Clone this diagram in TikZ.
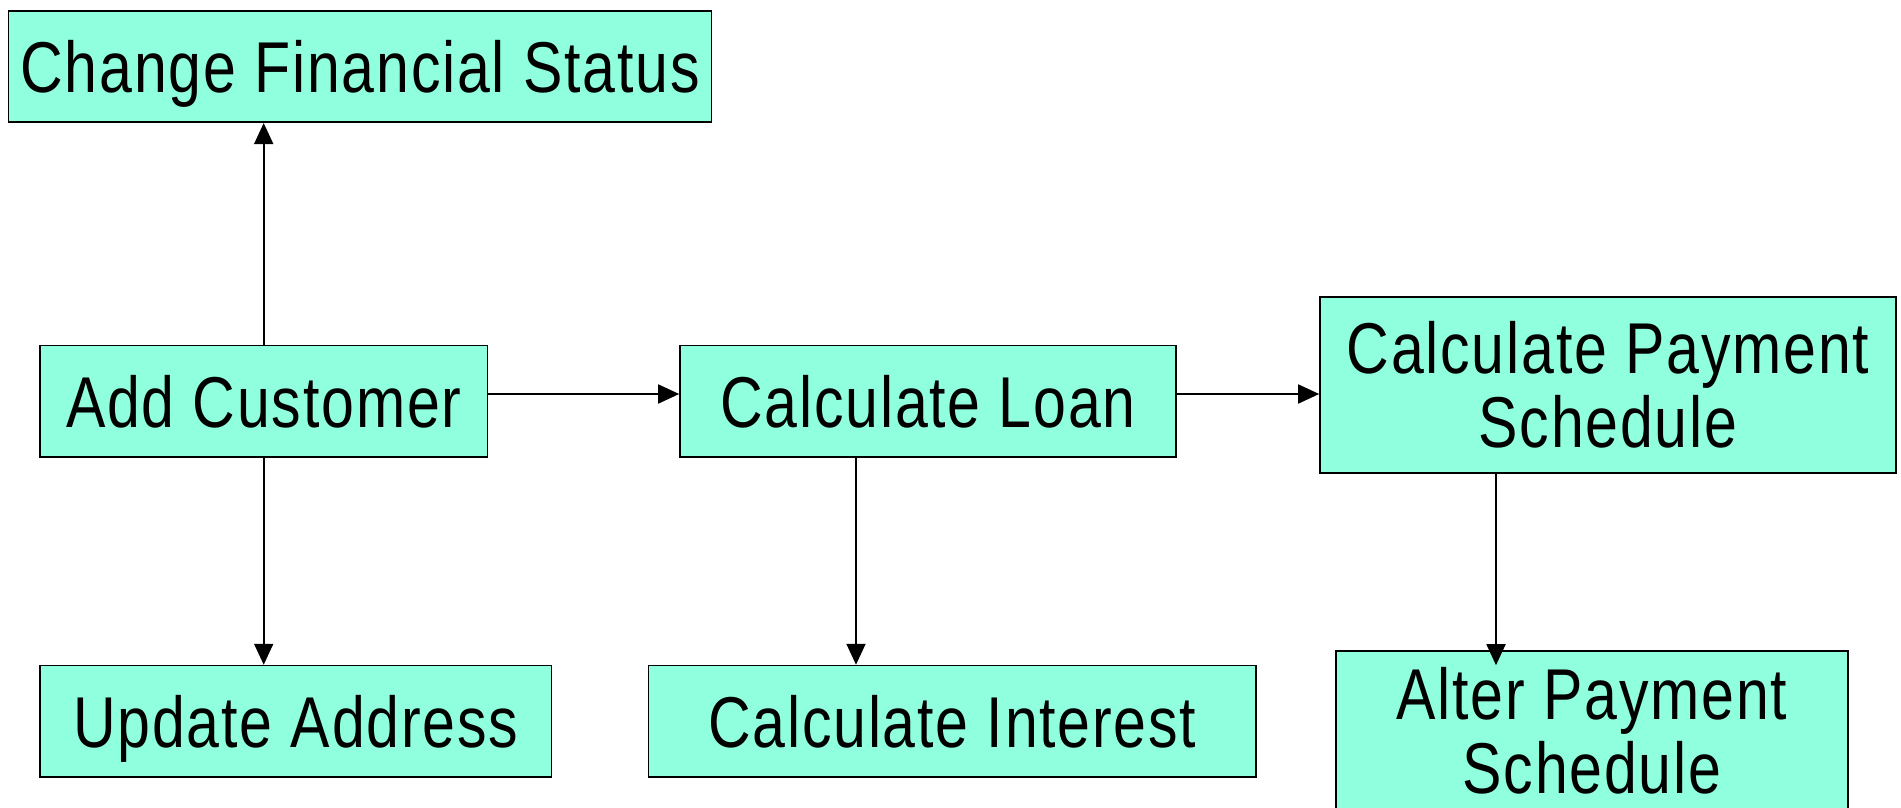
\documentclass[tikz,border=0pt]{standalone}
\usepackage{fontspec}
\setmainfont[FakeStretch=0.82,LetterSpace=2.5]{Liberation Sans}
\usetikzlibrary{arrows.meta,calc}
\definecolor{boxfill}{RGB}{144,255,222}
\begin{document}
\begin{tikzpicture}[x=1pt,y=-1pt,
  box/.style={draw=black, line width=1.6pt, fill=boxfill, inner sep=0pt, align=center,
    font=\fontsize{72}{74}\selectfont},
  one/.style={box, text height=51.5pt, text depth=0pt},
  conn/.style={line width=1.8pt, -{Triangle[length=21pt,width=19pt]}}]
\useasboundingbox (0,0) rectangle (1901,807);
\clip (0,0) rectangle (1901,807);
\fill[white] (0,0) rectangle (1901,807);
\node[one, minimum width=703pt, minimum height=111.5pt] (cfs) at (360.1,66.5) {Change Financial Status};
\node[one, minimum width=447.4pt, minimum height=111.5pt] (addc) at (263.7,401.3) {Add Customer};
\node[one, minimum width=496pt, minimum height=111.5pt] (loan) at (928,401.3) {Calculate Loan};
\node[box, minimum width=576pt, minimum height=176pt] (cps) at (1608,385) {Calculate Payment\\Schedule};
\node[one, minimum width=511.6pt, minimum height=111.5pt] (upd) at (295.8,721.3) {Update Address};
\node[one, minimum width=607.4pt, minimum height=111.5pt] (int) at (952.3,721.3) {Calculate Interest};
\node[box, minimum width=512pt, minimum height=160pt] (alter) at (1592,731) {Alter Payment\\Schedule};
\coordinate (ay) at (0,394);
\coordinate (lx) at (856,0);
\coordinate (px) at (1496,0);
\draw[conn] (addc.north) -- (addc.north |- cfs.south);
\draw[conn] (addc.south) -- (addc.south |- upd.north);
\draw[conn] (addc.east |- ay) -- (loan.west |- ay);
\draw[conn] (loan.east |- ay) -- (cps.west |- ay);
\draw[conn] (lx |- loan.south) -- (lx |- int.north);
\draw[conn] (px |- cps.south) -- ($(px |- alter.north)+(0,15)$);
\end{tikzpicture}
\end{document}
